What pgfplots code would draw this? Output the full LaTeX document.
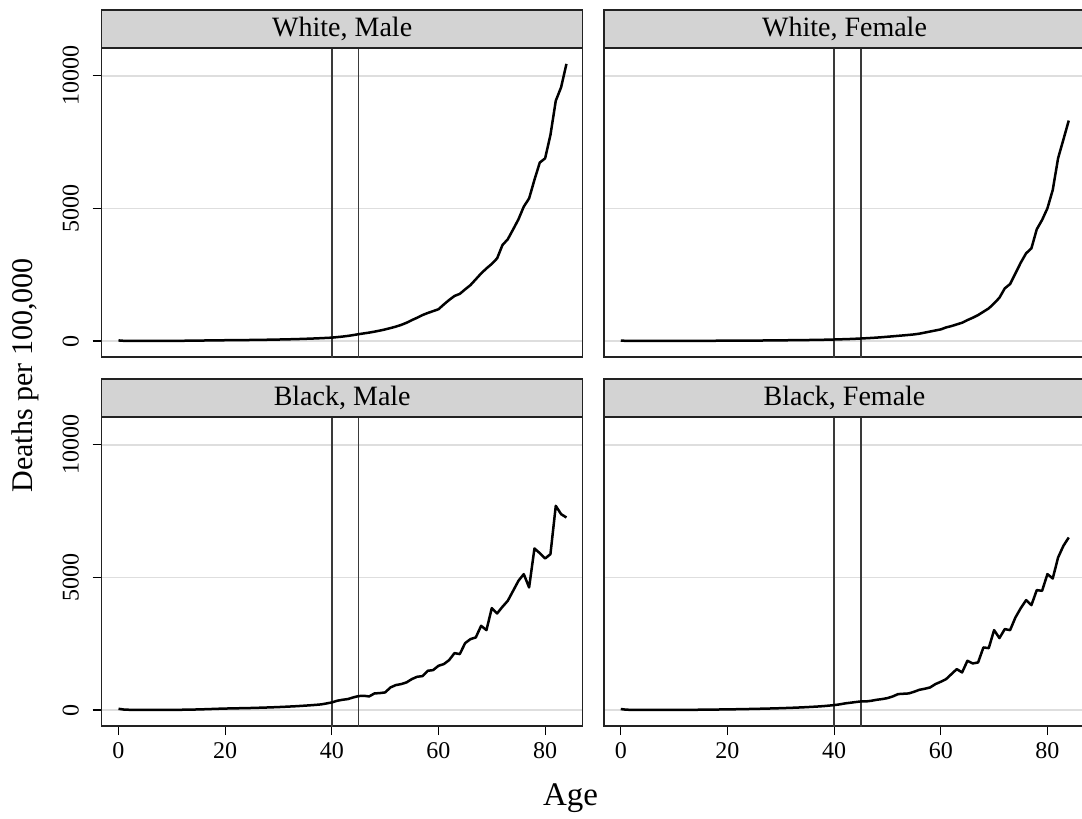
\documentclass[border=0pt]{standalone}
\usepackage{fontspec}
\setmainfont{Liberation Serif}
\usepackage{pgfplots}
\usepackage{pgfplotstable}
\pgfplotsset{compat=1.18}

\definecolor{stripgray}{HTML}{D3D3D3}
\definecolor{gridgray}{HTML}{DEDEDE}
\definecolor{refline}{HTML}{3A3A3A}
\definecolor{frame}{HTML}{222222}

% deaths per 100,000 by single year of age
\pgfplotstableread{
age wm wf bm bf
0 25 20 50 40
1 10 8 20 15
2 8 6 12 10
3 7 5 10 8
4 6 5 9 7
5 6 4 8 6
6 6 4 8 6
7 6 4 8 6
8 7 4 8 6
9 8 4 9 6
10 9 5 10 7
11 10 5 11 8
12 12 6 13 9
13 14 7 16 10
14 16 8 20 12
15 19 10 25 14
16 22 11 31 16
17 25 12 38 18
18 28 13 45 21
19 30 14 52 24
20 32 15 58 27
21 34 16 63 30
22 36 17 67 33
23 38 18 71 37
24 40 19 75 41
25 42 20 80 45
26 45 21 86 50
27 48 23 92 55
28 51 25 99 60
29 55 27 106 66
30 59 29 114 72
31 63 31 123 79
32 68 33 133 86
33 73 35 143 94
34 79 37 155 103
35 86 40 168 113
36 93 43 182 124
37 101 46 197 136
38 110 50 215 150
39 120 55 250 168
40 130 60 289 188
41 150 66 352 214
42 170 72 389 251
43 195 79 415 276
44 225 88 477 302
45 260 98 528 327
46 290 108 540 327
47 320 119 515 352
48 355 132 628 389
49 395 147 641 415
50 440 164 666 452
51 490 180 854 515
52 545 198 942 603
53 610 215 980 616
54 690 233 1043 628
55 790 252 1168 691
56 880 280 1256 766
57 980 320 1281 804
58 1060 360 1482 854
59 1130 400 1508 980
60 1200 440 1671 1068
61 1380 516 1734 1168
62 1550 566 1884 1357
63 1700 629 2148 1545
64 1780 692 2111 1420
65 1950 792 2525 1859
66 2110 880 2676 1759
67 2330 981 2739 1796
68 2550 1107 3178 2362
69 2740 1233 3015 2337
70 2910 1421 3844 3015
71 3120 1635 3643 2714
72 3620 1987 3894 3053
73 3840 2151 4121 3015
74 4210 2553 4497 3492
75 4590 2956 4874 3844
76 5070 3308 5126 4146
77 5380 3497 4623 3957
78 6080 4214 6093 4523
79 6730 4566 5917 4497
80 6890 5006 5716 5126
81 7770 5698 5879 4962
82 9060 6893 7701 5754
83 9570 7600 7387 6193
84 10450 8314 7261 6508
}\mort

\pgfplotsset{
  panel/.style={
    scale only axis, width=240.5pt, height=154.5pt, anchor=south west,
    xmin=-3.15, xmax=87.05, ymin=-600, ymax=11050,
    xtick={0,20,40,60,80}, ytick={0,5000,10000},
    xticklabels={0,20,40,60,80}, yticklabels={0,5000,10000},
    scaled x ticks=false, scaled y ticks=false,
    xtick pos=bottom, ytick pos=left,
    ymajorgrids, grid style={gridgray, line width=0.9pt},
    axis line style={frame, line width=0.75pt},
    tick align=outside, major tick length=4.5pt,
    tick style={black, line width=0.6pt},
    ticklabel style={font=\fontsize{12}{14}\selectfont},
    yticklabel style={xshift=-7pt, rotate=90, anchor=base},
  },
  notop/.style={xticklabels={}, x tick style={draw=none}},
  noleft/.style={yticklabels={}, y tick style={draw=none}},
  curve/.style={black, line width=1.25pt, line join=round},
  vline/.style={refline, line width=0.8pt},
}
\tikzset{
  strip/.style={draw=frame, line width=0.75pt, fill=stripgray,
    minimum width=240.5pt, minimum height=19pt, inner sep=0pt, outer sep=0pt,
    anchor=south, font=\fontsize{14}{16}\selectfont},
}

\begin{document}
\begin{tikzpicture}
\useasboundingbox (0,0) rectangle (541pt,-409.5pt);

\begin{axis}[panel, notop, name=tl, at={(50.85pt,-178.5pt)}]
  \addplot[vline] coordinates {(40,-1000) (40,12000)};
  \addplot[vline] coordinates {(45,-1000) (45,12000)};
  \addplot[curve] table[x=age, y=wm] {\mort};
\end{axis}
\node[strip] at (tl.north) {White, Male};

\begin{axis}[panel, notop, noleft, name=tr, at={(302pt,-178.5pt)}]
  \addplot[vline] coordinates {(40,-1000) (40,12000)};
  \addplot[vline] coordinates {(45,-1000) (45,12000)};
  \addplot[curve] table[x=age, y=wf] {\mort};
\end{axis}
\node[strip] at (tr.north) {White, Female};

\begin{axis}[panel, name=bl, at={(50.85pt,-363pt)}]
  \addplot[vline] coordinates {(40,-1000) (40,12000)};
  \addplot[vline] coordinates {(45,-1000) (45,12000)};
  \addplot[curve] table[x=age, y=bm] {\mort};
\end{axis}
\node[strip] at (bl.north) {Black, Male};

\begin{axis}[panel, noleft, name=br, at={(302pt,-363pt)}]
  \addplot[vline] coordinates {(40,-1000) (40,12000)};
  \addplot[vline] coordinates {(45,-1000) (45,12000)};
  \addplot[curve] table[x=age, y=bf] {\mort};
\end{axis}
\node[strip] at (br.north) {Black, Female};

\node[rotate=90, anchor=east, inner sep=0pt, font=\fontsize{15}{18}\selectfont] at (12.5pt,-129pt) {Deaths per 100,000};
\node[anchor=base, font=\fontsize{16.5}{19}\selectfont] at (285.25pt,-402.5pt) {Age};
\end{tikzpicture}
\end{document}
